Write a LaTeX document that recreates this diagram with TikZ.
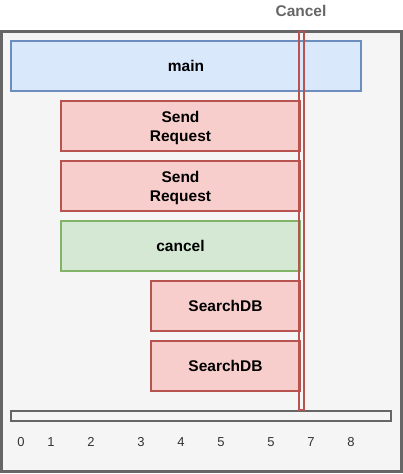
\documentclass[tikz,border=0pt]{standalone}
\usepackage{fontspec}
\setmainfont{Liberation Sans}
\definecolor{bluefill}{HTML}{DAE8FC}
\definecolor{bluestroke}{HTML}{6C8EBF}
\definecolor{redfill}{HTML}{F8CECC}
\definecolor{redstroke}{HTML}{B85450}
\definecolor{greenfill}{HTML}{D5E8D4}
\definecolor{greenstroke}{HTML}{82B366}
\definecolor{grayfill}{HTML}{F5F5F5}
\definecolor{graystroke}{HTML}{666666}
\definecolor{ticktext}{HTML}{333333}
\begin{document}
\begin{tikzpicture}[x=1pt,y=-1pt,
  blk/.style={draw, line width=2.7pt, inner sep=0pt, align=center, font=\bfseries\fontsize{15.5pt}{19pt}\selectfont},
  bluebox/.style={blk, draw=bluestroke, fill=bluefill},
  redbox/.style={blk, draw=redstroke, fill=redfill},
  greenbox/.style={blk, draw=greenstroke, fill=greenfill},
  twoline/.style={text depth=0pt},
  tick/.style={font=\fontsize{13pt}{15pt}\selectfont, text=ticktext, inner sep=0pt, anchor=base}
]
\useasboundingbox (0,0) rectangle (403,474);
% container
\draw[line width=3pt, draw=graystroke, fill=grayfill] (1.5,31.5) rectangle (401.5,471.5);
% label
\node[font=\bfseries\fontsize{15.5pt}{19pt}\selectfont, text=graystroke] (cancellbl) at (301,11) {Cancel};
% boxes
\node[bluebox, minimum width=350pt, minimum height=50pt] (main) at (186,66) {main};
\node[redbox, twoline, minimum width=239pt, minimum height=50pt] (sr1) at (180.5,126) {Send\\Request};
\node[redbox, twoline, minimum width=239pt, minimum height=50pt] (sr2) at (180.5,186) {Send\\Request};
\node[greenbox, minimum width=239pt, minimum height=50pt] (cancel) at (180.5,246) {cancel};
\node[redbox, minimum width=149pt, minimum height=50pt] (db1) at (225.5,306) {SearchDB};
\node[redbox, minimum width=149pt, minimum height=50pt] (db2) at (225.5,366) {SearchDB};
% bar
\draw[line width=2.7pt, draw=graystroke, fill=grayfill] (11,411) rectangle (391,421);
% cancel marker
\draw[line width=1.3pt, draw=redstroke] (299,31.5) rectangle (304,410);
% ticks
\node[tick] (t0) at (21,446) {0};
\node[tick] (t1) at (51,446) {1};
\node[tick] (t2) at (91,446) {2};
\node[tick] (t3) at (141,446) {3};
\node[tick] (t4) at (181,446) {4};
\node[tick] (t5) at (221,446) {5};
\node[tick] (t5b) at (271,446) {5};
\node[tick] (t7) at (311,446) {7};
\node[tick] (t8) at (351,446) {8};
\end{tikzpicture}
\end{document}
